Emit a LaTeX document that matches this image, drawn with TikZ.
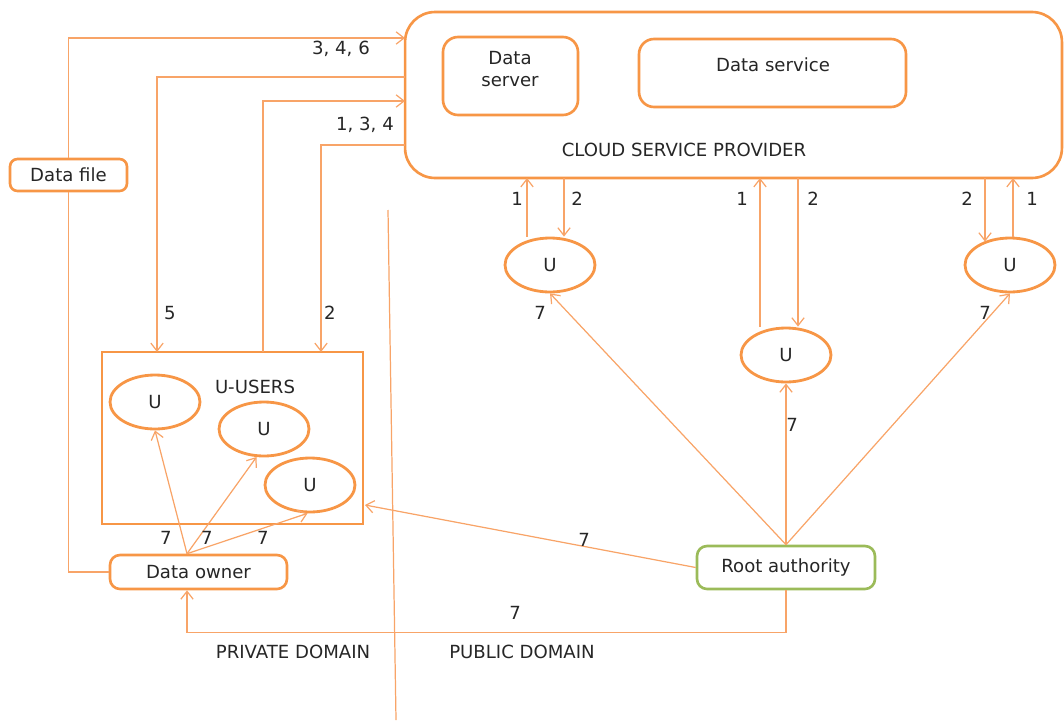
\documentclass[tikz,border=0pt]{standalone}
\usepackage{fontspec}
\setmainfont{DejaVu Sans}
\usetikzlibrary{shapes.geometric,arrows.meta}
\definecolor{csporange}{HTML}{F79646}
\definecolor{linkorange}{HTML}{F8A468}
\definecolor{rootgreen}{HTML}{9BBB59}
\definecolor{txt}{HTML}{262626}
\tikzset{
  box/.style={draw=csporange, line width=1.5pt, rounded corners=0.2cm, fill=white, inner sep=0pt},
  user/.style={ellipse, draw=csporange, line width=1.6pt, minimum width=1.8cm, minimum height=1.08cm, inner sep=0pt},
  link/.style={draw=linkorange, line width=0.7pt},
  num/.style={inner sep=1pt},
}
\begin{document}
\begin{tikzpicture}[x=0.02cm, y=-0.02cm, >={Straight Barb[length=4.5pt,width=7pt]},
  font=\fontsize{10.3}{12.5}\selectfont, text=txt]
\useasboundingbox (0,0) rectangle (1064,720);
% cloud side
\node[box, rounded corners=0.6cm, minimum width=13.14cm, minimum height=3.32cm] (csp) at (733.5,95) {};
\node (cspname) at (684,150) {CLOUD SERVICE PROVIDER};
\node[box, rounded corners=0.3cm, minimum width=2.7cm, minimum height=1.56cm] (server) at (510.5,76) {};
\node[align=center] (servername) at (510,69) {Data\\server};
\node[box, rounded corners=0.3cm, minimum width=5.34cm, minimum height=1.36cm] (service) at (772.5,73) {};
\node (servicename) at (773,65) {Data service};
\node[user] (pa) at (550,265) {U};
\node[user] (pb) at (786,355) {U};
\node[user] (pc) at (1010,265) {U};
\node[box, draw=rootgreen, minimum width=3.56cm, minimum height=0.86cm] (root) at (786,567.5) {Root authority};
% private side
\node[box, rounded corners=0.15cm, minimum width=2.34cm, minimum height=0.64cm] (file) at (68.5,175) {Data file};
\node[draw=csporange, line width=0.8pt, minimum width=5.22cm, minimum height=3.44cm] (users) at (232.5,438) {};
\node (usersname) at (255,387) {U-USERS};
\node[user] (ua) at (155,402) {U};
\node[user] (ub) at (264,429) {U};
\node[user] (uc) at (310,485) {U};
\node[box, minimum width=3.54cm, minimum height=0.68cm] (owner) at (198.5,572) {Data owner};
% ends on the cloud box and the users box
\coordinate (in346) at (405,38);
\coordinate (out5) at (405,77);
\coordinate (in134) at (405,101);
\coordinate (out2) at (405,145);
\coordinate (usr5) at (157,352);
\coordinate (usr134) at (263,352);
\coordinate (usr2) at (321,352);
\coordinate (usrin) at (365,505);
\coordinate (a1) at (527,178);
\coordinate (a2) at (564,178);
\coordinate (b1) at (760,178);
\coordinate (b2) at (798,178);
\coordinate (c2) at (985,178);
\coordinate (c1) at (1013,178);
% connectors
\draw[link,->] (file.north) |- (in346);
\draw[link,->] (out5) -| (usr5);
\draw[link,->] (usr134) |- (in134);
\draw[link,->] (out2) -| (usr2);
\draw[link] (file.south) |- (owner.west);
\draw[link,->] ([xshift=-0.23cm]owner.north) -- (ua.south);
\draw[link,->] ([xshift=-0.23cm]owner.north) -- (ub.255);
\draw[link,->] ([xshift=-0.23cm]owner.north) -- (uc.265);
\draw[link,->] (root.west) -- (usrin);
\draw[link,->] (root.south) -- ++(0,42) -| ([xshift=-0.23cm]owner.south);
\draw[link,->] (root.north) -- (pa.south);
\draw[link,->] (root.north) -- (pb.south);
\draw[link,->] (root.north) -- (pc.south);
\draw[link,->] (a1 |- pa.north) -- (a1);
\draw[link,->] (a2) -- (a2 |- pa.north);
\draw[link,->] (b1 |- pb.north) -- (b1);
\draw[link,->] (b2) -- (b2 |- pb.north);
\draw[link,->] (c2) -- ([yshift=-0.1cm]c2 |- pc.north);
\draw[link,->] (c1 |- pc.north) -- (c1);
% domain border
\draw[link] (388,210) -- (396,720);
% step numbers
\node[num] (n346) at (341,49) {3, 4, 6};
\node[num] (n134) at (365,125) {1, 3, 4};
\node[num] (n5) at (170,313) {5};
\node[num] (n2) at (330,313) {2};
\node[num] (na1) at (517,199) {1};
\node[num] (na2) at (577,199) {2};
\node[num] (nb1) at (742,199) {1};
\node[num] (nb2) at (813,199) {2};
\node[num] (nc2) at (967,199) {2};
\node[num] (nc1) at (1032,199) {1};
\node[num] (npa) at (540,313) {7};
\node[num] (npb) at (792,425) {7};
\node[num] (npc) at (985,313) {7};
\node[num] (nua) at (166,538) {7};
\node[num] (nub) at (207,538) {7};
\node[num] (nuc) at (263,538) {7};
\node[num] (nusr) at (584,540) {7};
\node[num] (nown) at (515,613) {7};
% domains
\node (private) at (293,652) {PRIVATE DOMAIN};
\node (public) at (522,652) {PUBLIC DOMAIN};
\end{tikzpicture}
\end{document}
